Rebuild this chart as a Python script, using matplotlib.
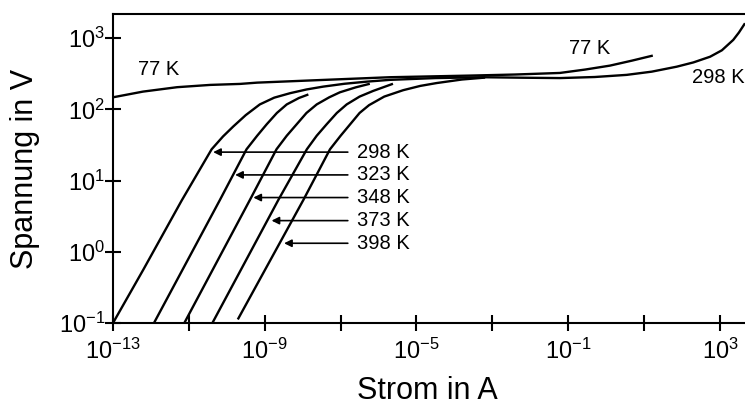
import numpy as np
import matplotlib
matplotlib.use('Agg')
import matplotlib.pyplot as plt
from matplotlib.ticker import FixedLocator, NullFormatter

plt.rcParams['font.family'] = ['Liberation Sans', 'DejaVu Sans']
plt.rcParams['mathtext.fontset'] = 'custom'
plt.rcParams['mathtext.rm'] = 'Liberation Sans'

# curves, as log10(I / A) and log10(U / V)
logI_77 = [-13.0, -12.21, -11.31, -10.44, -9.65, -9.2, -7.46, -5.70, -3.59, -2.4,
           -1.22, -0.55, 0.10, 0.68, 1.23]
logU_77 = [2.17, 2.25, 2.312, 2.344, 2.358, 2.376, 2.414, 2.452, 2.475, 2.49,
           2.512, 2.56, 2.615, 2.685, 2.756]

logI_298 = [-13.0, -12.2, -11.19, -10.4, -10.1, -9.83, -9.5, -9.13, -8.75, -8.33, -7.9,
            -7.46, -6.9, -6.31, -5.70, -4.5, -3.25, -2.2, -1.22, -0.3, 0.54, 1.2,
            1.86, 2.3, 2.74, 3.05, 3.35, 3.5, 3.66]
logU_298 = [-1.0, -0.25, 0.72, 1.44, 1.62, 1.76, 1.92, 2.07, 2.165, 2.228, 2.28,
            2.32, 2.36, 2.39, 2.415, 2.44, 2.452, 2.445, 2.44, 2.455, 2.485, 2.53,
            2.60, 2.66, 2.74, 2.83, 2.976, 3.08, 3.21]

logI_323 = [-11.92, -10.18, -9.48, -9.2, -8.95, -8.68, -8.42, -8.1, -7.85]
logU_323 = [-1.0, 0.73, 1.44, 1.63, 1.79, 1.95, 2.07, 2.16, 2.21]

logI_348 = [-11.12, -9.39, -8.69, -8.42, -8.16, -7.9, -7.63, -7.3, -7.02, -6.6, -6.23]
logU_348 = [-1.0, 0.73, 1.44, 1.63, 1.79, 1.95, 2.07, 2.17, 2.24, 2.31, 2.36]

logI_373 = [-10.38, -8.64, -7.89, -7.63, -7.37, -7.1, -6.84, -6.5, -6.14, -5.62]
logU_373 = [-1.0, 0.73, 1.44, 1.63, 1.79, 1.95, 2.07, 2.18, 2.26, 2.36]

logI_398 = [-9.71, -7.98, -7.28, -7.0, -6.75, -6.5, -6.25, -5.85, -5.35, -4.9, -4.47,
            -3.8, -3.19]
logU_398 = [-0.95, 0.73, 1.44, 1.63, 1.79, 1.95, 2.06, 2.18, 2.27, 2.33, 2.37,
            2.42, 2.447]

# arrow labels
arrow_labels = ['298 K', '323 K', '348 K', '373 K', '398 K']
arrow_tip_logI = [-10.36, -9.78, -9.30, -8.82, -8.49]
arrow_logU = [1.40, 1.08, 0.762, 0.438, 0.12]
arrow_tail_logI = -6.81
text_logI = -6.58

fig = plt.figure(figsize=(7.45, 4.05), dpi=100)
ax = fig.add_axes([113/745, 82/405, 632/745, 309/405])

for lx, ly in [(logI_77, logU_77), (logI_298, logU_298), (logI_323, logU_323),
               (logI_348, logU_348), (logI_373, logU_373), (logI_398, logU_398)]:
    ax.plot(10.0 ** np.array(lx), 10.0 ** np.array(ly), color='black', lw=1.7,
            solid_capstyle='butt', solid_joinstyle='round')

ax.set_xscale('log')
ax.set_yscale('log')
ax.set_xlim(1e-13, 10 ** 3.66)
ax.set_ylim(1e-1, 10 ** 3.34)

for lab, tip, u in zip(arrow_labels, arrow_tip_logI, arrow_logU):
    ax.annotate('', xy=(10 ** tip, 10 ** u), xytext=(10 ** arrow_tail_logI, 10 ** u),
                arrowprops=dict(arrowstyle='-|>', color='black', lw=1.2,
                                mutation_scale=11, shrinkA=0, shrinkB=0))
    ax.text(10 ** text_logI, 10 ** u, lab, ha='left', va='center', fontsize=14.5)

ax.text(10 ** -11.81, 10 ** 2.555, '77 K', ha='center', va='center', fontsize=14.5)
ax.text(10 ** -0.43, 10 ** 2.86, '77 K', ha='center', va='center', fontsize=14.5)
ax.text(10 ** 3.64, 10 ** 2.45, '298 K', ha='right', va='center', fontsize=14.5)

xt = [1e-13, 1e-9, 1e-5, 1e-1, 1e3]
xt_minor = [1e-11, 1e-7, 1e-3, 1e1]
ax.xaxis.set_major_locator(FixedLocator(xt))
ax.xaxis.set_minor_locator(FixedLocator(xt_minor))
ax.xaxis.set_minor_formatter(NullFormatter())
ax.set_xticklabels([r'$\mathregular{10^{%d}}$' % e for e in [-13, -9, -5, -1, 3]])
yt = [1e-1, 1e0, 1e1, 1e2, 1e3]
ax.yaxis.set_major_locator(FixedLocator(yt))
ax.yaxis.set_minor_locator(FixedLocator([]))
ax.set_yticklabels([r'$\mathregular{10^{%d}}$' % e for e in [-1, 0, 1, 2, 3]])

ax.tick_params(which='both', direction='inout', length=11, width=1.5, labelsize=17)
ax.tick_params(axis='x', pad=6)
ax.tick_params(axis='y', pad=0)

for s in ['left', 'bottom', 'top']:
    ax.spines[s].set_linewidth(1.5)
ax.spines['right'].set_visible(False)

ax.set_xlabel('Strom in A', fontsize=22, va='top')
ax.set_ylabel('Spannung in V', fontsize=22)
ax.xaxis.set_label_coords(0.498, -0.17)
ax.yaxis.set_label_coords(-0.115, 0.5)

plt.savefig('out.png', dpi=100)
